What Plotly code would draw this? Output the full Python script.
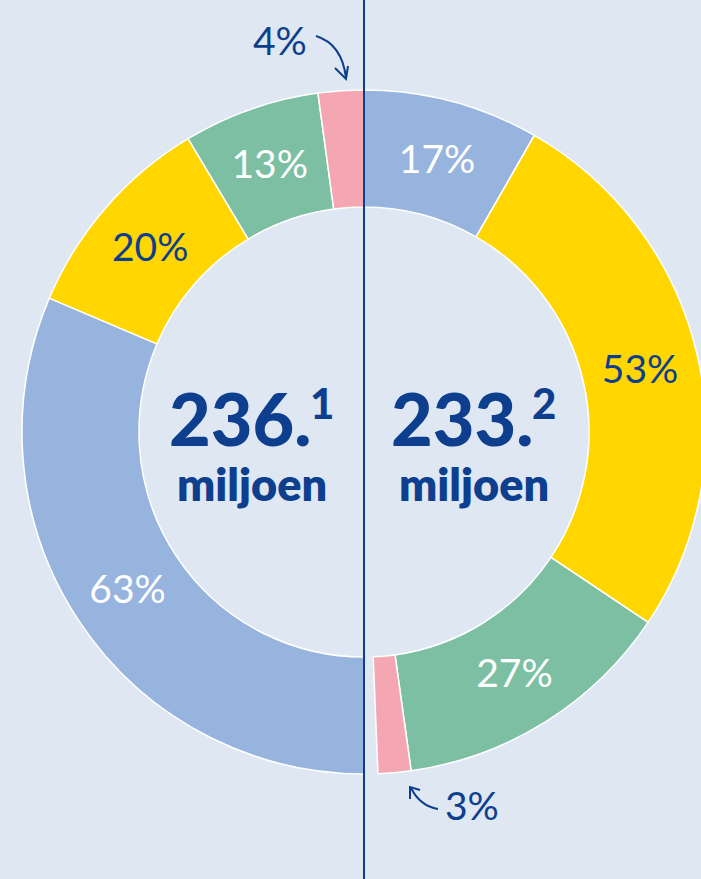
import plotly.graph_objects as go

W, H = 706, 879          # window is 701 wide; the ring is clipped at the right edge like the reference
BG = "#dfe7f3"
DARK = "#0d3f8e"
BLUE, YELLOW, GREEN, PINK = "#97b4de", "#ffd600", "#7cbfa2", "#f4a7b3"
CLEAR = "rgba(0,0,0,0)"

# Left half (236.1 miljoen), clockwise from the bottom
left_labels = ["63%", "20%", "13%", "4%"]
left_values = [62.8, 20.0, 12.9, 4.3]
left_colors = [BLUE, YELLOW, GREEN, PINK]
left_textcolors = ["white", DARK, "white", DARK]

# Right half (233.2 miljoen), clockwise from the top
right_labels = ["17%", "53%", "27%", "3%"]
right_values = [16.6, 52.2, 26.8, 3.1]
right_gap = 1.3
right_colors = [BLUE, YELLOW, GREEN, PINK]
right_textcolors = ["white", DARK, "white", DARK]

totals_main = ["236.", "233."]
totals_sup = ["1", "2"]
unit = "miljoen"

FONT = "Lato"

def px(x):
    return x / W

def py(y):
    return 1 - y / H

cx, cy, R = 364, 432, 342
domain = dict(x=[px(cx - R), 1.0], y=[py(cy + R), py(cy - R)])
HOLE = 0.658

fig = go.Figure()

fig.add_trace(go.Pie(
    values=right_values + [right_gap, 100],
    text=right_labels[:3] + ["", "", ""],
    textinfo="text",
    textposition="inside",
    insidetextorientation="horizontal",
    insidetextfont=dict(family=FONT, size=39, weight=400,
                        color=right_textcolors + [DARK, DARK]),
    marker=dict(colors=right_colors + [CLEAR, CLEAR],
                line=dict(color="white", width=[1.5, 1.5, 1.5, 1.5, 0, 0])),
    sort=False, direction="clockwise", rotation=0,
    hole=HOLE, domain=domain, hoverinfo="skip", showlegend=False,
))

fig.add_trace(go.Pie(
    values=[100] + left_values,
    text=[""] + left_labels[:3] + [""],
    textinfo="text",
    textposition="inside",
    insidetextorientation="horizontal",
    insidetextfont=dict(family=FONT, size=39, weight=400,
                        color=[DARK] + left_textcolors),
    marker=dict(colors=[CLEAR] + left_colors,
                line=dict(color="white", width=[0, 1.5, 1.5, 1.5, 1.5])),
    sort=False, direction="clockwise", rotation=0,
    hole=HOLE, domain=domain, hoverinfo="skip", showlegend=False,
))

ann = []
for xc, main, sup in [(250, totals_main[0], totals_sup[0]), (472, totals_main[1], totals_sup[1])]:
    ann.append(dict(x=px(xc - 10), y=py(418), xref="paper", yref="paper", text=main,
                    showarrow=False, xanchor="center", yanchor="middle",
                    font=dict(family=FONT, size=72, weight=900, color=DARK)))
    ann.append(dict(x=px(xc + 72), y=py(403), xref="paper", yref="paper", text=sup,
                    showarrow=False, xanchor="center", yanchor="middle",
                    font=dict(family=FONT, size=42, weight=900, color=DARK)))
    ann.append(dict(x=px(xc + 2), y=py(484), xref="paper", yref="paper", text=unit,
                    showarrow=False, xanchor="center", yanchor="middle",
                    font=dict(family=FONT, size=45, weight=800, color=DARK)))

ann.append(dict(x=px(280), y=py(40), xref="paper", yref="paper", text=left_labels[3],
                showarrow=False, xanchor="center", yanchor="middle",
                font=dict(family=FONT, size=39, weight=400, color=DARK)))
ann.append(dict(x=px(472), y=py(805), xref="paper", yref="paper", text=right_labels[3],
                showarrow=False, xanchor="center", yanchor="middle",
                font=dict(family=FONT, size=39, weight=400, color=DARK)))

def path(cmds):
    out = []
    for c in cmds:
        if isinstance(c, str):
            out.append(c)
        else:
            out.append(f"{px(c[0]):.5f},{py(c[1]):.5f}")
    return " ".join(out)

shapes = [
    dict(type="line", xref="paper", yref="paper", x0=px(cx), x1=px(cx), y0=0, y1=1,
         line=dict(color=DARK, width=2)),
    dict(type="path", xref="paper", yref="paper",
         path=path(["M", (316, 36), "Q", (342, 44), (346, 78)]),
         line=dict(color=DARK, width=2)),
    dict(type="path", xref="paper", yref="paper",
         path=path(["M", (335, 68), "L", (346, 79), "L", (348, 66)]),
         line=dict(color=DARK, width=2)),
    dict(type="path", xref="paper", yref="paper",
         path=path(["M", (438, 809), "Q", (420, 806), (411, 788)]),
         line=dict(color=DARK, width=2)),
    dict(type="path", xref="paper", yref="paper",
         path=path(["M", (410, 799), "L", (410, 787), "L", (420, 790)]),
         line=dict(color=DARK, width=2)),
]

fig.update_layout(
    width=W, height=H,
    margin=dict(l=0, r=0, t=0, b=0),
    paper_bgcolor=BG, plot_bgcolor=BG,
    annotations=ann, shapes=shapes,
)

fig.write_html(
    "out.html",
    config={"displayModeBar": False},
    post_script=(
        "document.body.style.margin='0';"
        "document.body.style.background='" + BG + "';"
        "document.documentElement.style.overflow='hidden';"
        "document.body.style.overflow='hidden';"
    ),
)
